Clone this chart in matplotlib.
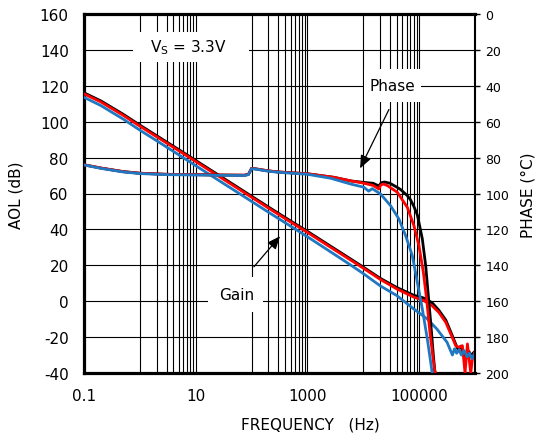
import numpy as np
import matplotlib
matplotlib.use('Agg')
import matplotlib.pyplot as plt
from matplotlib.patches import Rectangle
from matplotlib.ticker import FixedLocator, FixedFormatter, NullFormatter

plt.rcParams['axes.unicode_minus'] = False

# open-loop gain (dB) vs frequency (Hz)
gain_black_f = [0.1, 0.2, 0.5, 1, 2, 5, 10, 20, 50, 100, 200, 500, 1000, 2000, 5000, 10000,
                20000, 40000, 80000, 120000, 170000, 225000, 300000, 390000, 452000, 500000,
                560000, 620000, 700000, 780000, 850000, 920000, 1000000]
gain_black = [116.1, 111.6, 104.2, 98.1, 92.2, 84.4, 78.4, 72.4, 64.5, 58.5, 52.5, 44.7, 38.9, 32.9, 25.0, 19.0,
              12.8, 7.6, 3.3, 1.8, -0.8, -5.0, -10.5, -19.0, -24.0, -27.0,
              -25.0, -29.0, -31.0, -28.0, -30.5, -29.0, -28.0]

gain_red_f = [0.1, 0.2, 0.5, 1, 2, 5, 10, 20, 50, 100, 200, 500, 1000, 2000, 5000, 10000,
              20000, 40000, 80000, 120000, 170000, 225000, 300000, 390000, 452000, 518000,
              595000, 663000, 732000, 839000, 900000, 989000]
gain_red = [115.5, 111.0, 103.6, 97.5, 91.6, 83.8, 77.8, 71.8, 63.9, 57.9, 51.9, 44.1, 38.3, 32.3, 24.4, 18.4,
            12.2, 6.8, 2.3, 0.4, -2.5, -6.2, -11.8, -20.0, -24.8, -25.7,
            -24.8, -40.0, -23.8, -40.0, -32.0, -28.5]

gain_blue_f = [0.1, 0.2, 0.5, 1, 2, 5, 10, 20, 50, 100, 200, 500, 1000, 2000, 5000, 10000,
               20000, 40000, 80000, 140000, 208000, 316000, 394000, 430000, 470000, 520000,
               570000, 640000, 720000, 800000, 880000, 1000000]
gain_blue = [113.6, 109.0, 101.5, 95.3, 89.4, 81.5, 75.5, 69.5, 61.6, 55.6, 49.6, 41.8, 35.9, 29.8, 21.7, 15.4,
             8.6, 3.1, -4.3, -9.9, -15.5, -22.9, -30.0, -26.5, -29.0, -27.0,
             -30.0, -27.5, -31.0, -29.0, -32.0, -29.0]

# phase (deg)
low_f = [0.1, 0.2, 0.5, 1, 3, 10, 30, 75, 88, 100, 115, 200, 300, 1000, 3000, 6000]
low_ph = [84.0, 85.8, 87.8, 88.7, 89.3, 89.5, 89.7, 89.8, 89.3, 86.0, 86.2, 87.4, 88.0, 89.0, 91.0, 93.0]

phase_black_f = low_f + [10000, 15000, 19000, 21000, 24000, 30000, 40600, 46600, 61400, 70000,
                         80000, 93000, 114000, 131000, 146000, 161000, 180000, 195000]
phase_black = low_ph + [93.8, 94.3, 95.8, 94.0, 93.6, 94.3, 96.6, 97.8, 101.2, 103.5,
                        107.0, 112.0, 125.3, 140.2, 157.0, 171.8, 190.4, 202.0]

phase_red_f = low_f + [10000, 15000, 19000, 20500, 23000, 27000, 40600, 61400, 80700, 99000,
                       119000, 136000, 156000, 184000, 200000]
phase_red = low_ph + [94.2, 95.5, 97.5, 95.3, 94.7, 95.6, 99.3, 107.7, 117.9, 129.0,
                      143.9, 158.8, 177.3, 195.9, 202.0]

phase_blue_f = [0.1, 0.2, 0.5, 1, 3, 10, 30, 75, 88, 100, 115, 200, 300, 1000, 2600, 5900,
                10200, 12500, 14500, 20400, 30800, 43400, 57300, 75500, 92900, 114000, 140000,
                161000, 175000]
phase_blue = [84.1, 86.0, 88.0, 88.9, 89.5, 89.7, 89.9, 90.0, 89.5, 86.2, 86.4, 87.6, 88.2, 89.3, 91.5, 94.7,
              96.5, 98.7, 97.3, 100.3, 106.8, 114.2, 123.5, 134.6, 149.5, 164.3, 181.0,
              194.0, 202.0]

RED = '#ff0000'
BLUE = '#1f78c1'

fig = plt.figure(figsize=(5.38, 4.39), dpi=100)
ax = fig.add_axes([84 / 538, 1 - 374 / 439, 391 / 538, 359 / 439])
ax.set_xscale('log')
ax.set_xlim(0.1, 1e6)
ax.set_ylim(-40, 160)

# decade lines, plus minor lines in every other decade
major = [10.0 ** k for k in range(-1, 7)]
minor = [m * d for d in (1, 100, 10000) for m in range(2, 10)]
ax.xaxis.set_major_locator(FixedLocator(major))
ax.xaxis.set_major_formatter(FixedFormatter(['0.1', '', '10', '', '1000', '', '100000', '']))
ax.xaxis.set_minor_locator(FixedLocator(minor))
ax.xaxis.set_minor_formatter(NullFormatter())
ax.set_yticks(range(-40, 161, 20))
ax.grid(True, which='both', color='black', lw=0.8)
ax.tick_params(axis='both', which='both', length=0, labelsize=11, pad=11)

for s in ('left', 'top', 'bottom'):
    ax.spines[s].set_linewidth(2.3)
ax.spines['right'].set_visible(False)

ax.plot(gain_black_f, gain_black, color='black', lw=2.0, zorder=4)
ax.plot(gain_red_f, gain_red, color=RED, lw=2.0, zorder=4)
ax.plot(gain_blue_f, gain_blue, color=BLUE, lw=2.0, zorder=4)

ax2 = ax.twinx()
ax2.set_ylim(200, 0)
ax2.set_yticks(range(0, 201, 20))
ax2.tick_params(axis='y', length=3.5, width=1, labelsize=9, pad=4)
for s in ('left', 'top', 'bottom'):
    ax2.spines[s].set_visible(False)
ax2.spines['right'].set_linewidth(1.5)

ax2.plot(phase_black_f, phase_black, color='black', lw=2.0)
ax2.plot(phase_red_f, phase_red, color=RED, lw=2.0)
ax2.plot(phase_blue_f, phase_blue, color=BLUE, lw=2.0)

# label boxes that blank out the grid behind them
for x0, y0, x1, y1 in [(0.125, 0.866, 0.422, 0.950),
                       (0.716, 0.755, 0.862, 0.847),
                       (0.317, 0.170, 0.458, 0.267)]:
    ax.add_patch(Rectangle((x0, y0), x1 - x0, y1 - y0, transform=ax.transAxes,
                           facecolor='white', edgecolor='none', zorder=2))

ax.text(0.266, 0.908, r'V$_\mathregular{S}$ = 3.3V', transform=ax.transAxes,
        ha='center', va='center', fontsize=11, zorder=3)
ax.text(0.788, 0.801, 'Phase', transform=ax.transAxes,
        ha='center', va='center', fontsize=11, zorder=3)
ax.text(0.391, 0.220, 'Gain', transform=ax.transAxes,
        ha='center', va='center', fontsize=11, zorder=3)

arrow = dict(arrowstyle='-|>,head_length=0.6,head_width=0.25', color='black', lw=0.9, mutation_scale=13)
ax.annotate('', xy=(0.703, 0.563), xytext=(0.783, 0.741),
            xycoords='axes fraction', textcoords='axes fraction', arrowprops=arrow, zorder=5)
ax.annotate('', xy=(0.506, 0.387), xytext=(0.430, 0.290),
            xycoords='axes fraction', textcoords='axes fraction', arrowprops=arrow, zorder=5)

fig.text(16 / 538, 1 - 195 / 439, 'AOL (dB)', rotation=90, ha='center', va='center', fontsize=11)
fig.text(528 / 538, 1 - 195 / 439, 'PHASE (°C)', rotation=90, ha='center', va='center', fontsize=11)
fig.text(310 / 538, 1 - 425 / 439, 'FREQUENCY   (Hz)', ha='center', va='center', fontsize=11)

fig.savefig('out.png', dpi=100)
